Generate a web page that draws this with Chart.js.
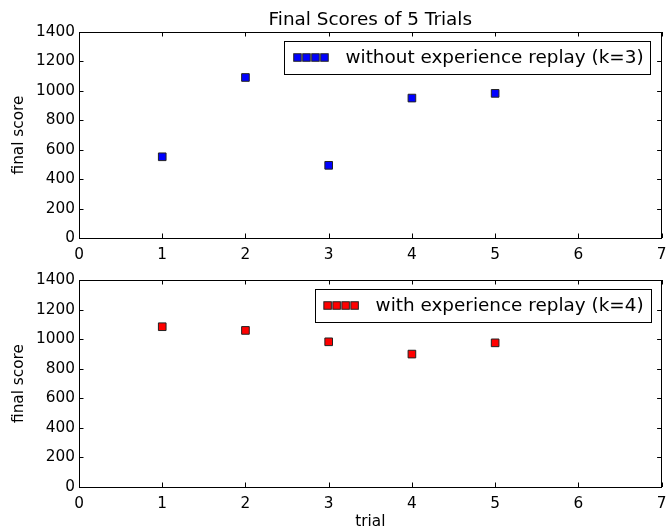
<!DOCTYPE html>
<html><head><meta charset="utf-8">
<script src="https://cdn.jsdelivr.net/npm/chart.js@4"></script>
<style>
html,body{margin:0;padding:0;background:#fff;font-family:'DejaVu Sans';}
#wrap{position:relative;width:668px;height:529px;overflow:hidden;}
.c{position:absolute;left:0;width:668px;}
</style></head><body>
<div id="wrap">
<div class="c" style="top:0;height:260px"><canvas id="c1" width="668" height="260"></canvas></div>
<div class="c" style="top:260px;height:269px"><canvas id="c2" width="668" height="269"></canvas></div>
</div>
<script>
const trials = [1, 2, 3, 4, 5];
const scoresWithout = [552, 1091, 494, 951, 983];
const scoresWith = [1084, 1059, 982, 899, 975];
const xTicks = [0, 1, 2, 3, 4, 5, 6, 7];
const yTicks = [0, 200, 400, 600, 800, 1000, 1200, 1400];
const chartTitle = 'Final Scores of 5 Trials';
const labelWithout = 'without experience replay (k=3)';
const labelWith = 'with experience replay (k=4)';
const yTitle = 'final score';
const xTitle = 'trial';

const FONT = "'DejaVu Sans', 'Liberation Sans', sans-serif";
const FS = 15.3;
const FL = 18.4;
Chart.defaults.font.family = FONT;
Chart.defaults.font.size = FS;
Chart.defaults.color = '#000';

const framePlugin = {
  id: 'frame',
  afterDraw(chart, args, opts) {
    const ctx = chart.ctx;
    const a = chart.chartArea;
    const xs = chart.scales.x, ys = chart.scales.y;
    ctx.save();
    ctx.strokeStyle = '#000';
    ctx.lineWidth = 1;
    ctx.beginPath();
    const tl = 4.5;
    xTicks.forEach(v => {
      const px = Math.round(xs.getPixelForValue(v)) + 0.5;
      ctx.moveTo(px, a.bottom); ctx.lineTo(px, a.bottom - tl);
      ctx.moveTo(px, a.top); ctx.lineTo(px, a.top + tl);
    });
    yTicks.forEach(v => {
      const py = Math.round(ys.getPixelForValue(v)) + 0.5;
      ctx.moveTo(a.left, py); ctx.lineTo(a.left + tl, py);
      ctx.moveTo(a.right, py); ctx.lineTo(a.right - tl, py);
    });
    ctx.stroke();
    ctx.strokeRect(Math.round(a.left) + 0.5, Math.round(a.top) + 0.5,
      Math.round(a.right - a.left) - 1, Math.round(a.bottom - a.top));
    if (opts.title) {
      ctx.fillStyle = '#000';
      ctx.font = FL + 'px ' + FONT;
      ctx.textAlign = 'center';
      ctx.textBaseline = 'alphabetic';
      ctx.fillText(opts.title, (a.left + a.right) / 2, 25);
    }
    if (opts.legendText) {
      ctx.font = FL + 'px ' + FONT;
      const tw = ctx.measureText(opts.legendText).width;
      const right = a.right - 11;
      const top = a.top + 9;
      const h = 33;
      const textStart = right - 7 - tw;
      const left = textStart - 61;
      ctx.fillStyle = '#fff';
      ctx.fillRect(left, top, right - left, h);
      ctx.strokeStyle = '#000';
      ctx.strokeRect(Math.round(left) + 0.5, Math.round(top) + 0.5, Math.round(right - left), h);
      const cy = top + h / 2;
      for (let i = 0; i < 4; i++) {
        const cx = left + 13 + i * 9;
        ctx.fillStyle = opts.legendColor;
        ctx.fillRect(cx - 3.75, cy - 3.75, 7.5, 7.5);
        ctx.strokeStyle = '#222';
        ctx.strokeRect(cx - 3.75, cy - 3.75, 7.5, 7.5);
      }
      ctx.fillStyle = '#000';
      ctx.textAlign = 'left';
      ctx.textBaseline = 'alphabetic';
      ctx.fillText(opts.legendText, textStart, top + 22);
    }
    ctx.restore();
  }
};

function makeChart(id, data, color, opts) {
  return new Chart(document.getElementById(id), {
    type: 'scatter',
    data: {
      datasets: [{
        data: trials.map((t, i) => ({ x: t, y: data[i] })),
        backgroundColor: color,
        borderColor: '#222',
        borderWidth: 1,
        pointStyle: 'rect',
        pointRadius: 5.4,
        pointHoverRadius: 5.4
      }]
    },
    options: {
      responsive: false,
      animation: false,
      events: [],
      layout: { padding: { top: opts.padTop, right: 1, left: 0, bottom: 0 } },
      plugins: {
        legend: { display: false },
        tooltip: { enabled: false },
        frame: { title: opts.title, legendText: opts.legendText, legendColor: color }
      },
      scales: {
        x: {
          type: 'linear', min: 0, max: 7,
          afterBuildTicks: s => { s.ticks = xTicks.map(v => ({ value: v })); },
          afterFit: s => { s.height = opts.xHeight; s.paddingLeft = 0; s.paddingRight = 0; },
          grid: { display: false, drawTicks: false },
          border: { display: false },
          ticks: { padding: 8, autoSkip: false, maxRotation: 0, font: { family: FONT, size: FS }, color: '#000', callback: v => String(v) },
          title: opts.xTitle ? { display: true, text: opts.xTitle, font: { family: FONT, size: FS, lineHeight: 0.8 }, padding: { top: 0, bottom: 1 }, color: '#000' } : { display: false }
        },
        y: {
          min: 0, max: 1400,
          afterBuildTicks: s => { s.ticks = yTicks.map(v => ({ value: v })); },
          afterFit: s => { s.width = 79; s.paddingTop = 0; s.paddingBottom = 0; },
          grid: { display: false, drawTicks: false },
          border: { display: false },
          ticks: { padding: 4, font: { family: FONT, size: FS }, color: '#000', callback: v => String(v) },
          title: { display: true, text: yTitle, font: { family: FONT, size: FS, lineHeight: 1 }, padding: { top: 11, bottom: 0 }, color: '#000' }
        }
      }
    },
    plugins: [framePlugin]
  });
}

makeChart('c1', scoresWithout, '#0000ff', { padTop: 32, xHeight: 22, title: chartTitle, legendText: labelWithout });
makeChart('c2', scoresWith, '#ff0000', { padTop: 20, xHeight: 42, xTitle: xTitle, legendText: labelWith });
</script>
</body></html>
